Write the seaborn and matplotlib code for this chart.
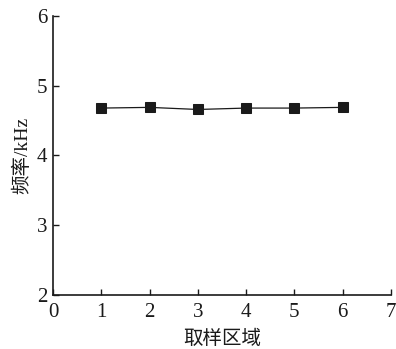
import matplotlib
matplotlib.use("Agg")
import matplotlib.pyplot as plt
import seaborn as sns
import pandas as pd

# sampling regions and measured frequency (kHz)
regions = [1, 2, 3, 4, 5, 6]
freq_khz = [4.68, 4.69, 4.66, 4.68, 4.68, 4.69]
x_ticks = [0, 1, 2, 3, 4, 5, 6, 7]
y_ticks = [2, 3, 4, 5, 6]

sns.set_style("ticks")
plt.rcParams["font.family"] = ["Liberation Serif", "Noto Sans CJK SC"]
plt.rcParams["axes.unicode_minus"] = False

df = pd.DataFrame({"region": regions, "freq": freq_khz})

fig = plt.figure(figsize=(3.96, 3.49), dpi=100)
ax = fig.add_axes([0.134, 0.155, 0.853, 0.799])

sns.lineplot(data=df, x="region", y="freq", ax=ax, color="#1a1a1a",
             linewidth=0.9, marker="s", markersize=7,
             markeredgecolor="#1a1a1a", markerfacecolor="#1a1a1a")

ax.set_xlim(0, 7)
ax.set_ylim(2, 6)
ax.set_xticks(x_ticks)
ax.set_yticks(y_ticks)
ax.tick_params(direction="in", length=4, width=1, labelsize=15, colors="#1a1a1a")
ax.tick_params(axis="x", pad=6)
ax.tick_params(axis="y", pad=4)
for lab in ax.get_xticklabels() + ax.get_yticklabels():
    lab.set_family(["Liberation Serif"])
for s in ("top", "right"):
    ax.spines[s].set_visible(False)
for s in ("left", "bottom"):
    ax.spines[s].set_linewidth(1.2)
    ax.spines[s].set_color("#1a1a1a")

ax.set_xlabel("取样区域", fontsize=14, family=["Noto Sans CJK SC"], labelpad=4, color="#1a1a1a")
ax.set_ylabel("频率/kHz", fontsize=14, family=["Liberation Serif", "Noto Sans CJK SC"],
              labelpad=4, color="#1a1a1a")

fig.savefig("out.png", dpi=100)
